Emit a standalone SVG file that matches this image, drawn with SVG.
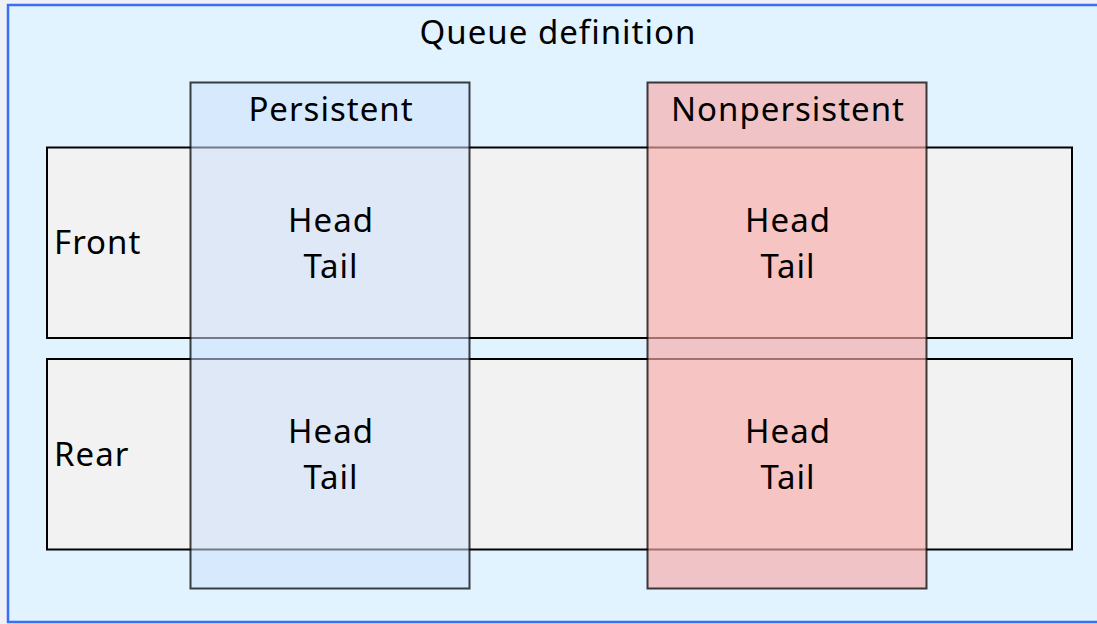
<svg xmlns="http://www.w3.org/2000/svg" width="1097" height="624" viewBox="0 0 1097 624">
  <style>
    .lbl { font-family: "Noto Sans", "Open Sans", sans-serif; font-size: 33px; letter-spacing: 1px; fill: #000; }
    .mid { text-anchor: middle; }
    .row { fill: #f2f2f2; stroke: #000; stroke-width: 2; }
    .col { stroke: #000; stroke-width: 2; stroke-opacity: 0.75; }
    .persist { fill: #cde0fb; fill-opacity: 0.55; }
    .nonpersist { fill: #f8aaa8; fill-opacity: 0.65; }
  </style>
  <rect width="1097" height="624" fill="#eef2f7"/>

  <!-- queue definition container -->
  <g id="queue-definition">
    <rect x="8" y="5" width="1100" height="617" fill="#e1f3fe" stroke="#3a6ef5" stroke-width="2.5"/>
    <text class="lbl mid" x="558" y="44">Queue definition</text>
  </g>

  <!-- rows -->
  <g id="front">
    <rect class="row" x="47" y="147.5" width="1025" height="190.5"/>
    <text class="lbl" x="54" y="254">Front</text>
  </g>
  <g id="rear">
    <rect class="row" x="47" y="359" width="1025" height="190.5"/>
    <text class="lbl" x="54" y="466">Rear</text>
  </g>

  <!-- columns, translucent over rows -->
  <g id="persistent">
    <rect class="col persist" x="190.5" y="82.5" width="279" height="506"/>
    <text class="lbl mid" x="331" y="121">Persistent</text>
    <text class="lbl mid" x="331" y="232">Head</text>
    <text class="lbl mid" x="331" y="278">Tail</text>
    <text class="lbl mid" x="331" y="443">Head</text>
    <text class="lbl mid" x="331" y="489">Tail</text>
  </g>
  <g id="nonpersistent">
    <rect class="col nonpersist" x="647.5" y="82.5" width="279" height="506"/>
    <text class="lbl mid" x="788" y="121">Nonpersistent</text>
    <text class="lbl mid" x="788" y="232">Head</text>
    <text class="lbl mid" x="788" y="278">Tail</text>
    <text class="lbl mid" x="788" y="443">Head</text>
    <text class="lbl mid" x="788" y="489">Tail</text>
  </g>

  <g id="connectors"/>
</svg>
